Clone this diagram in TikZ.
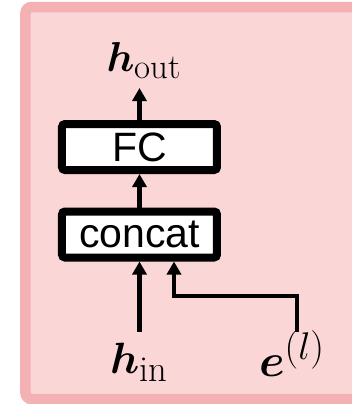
\documentclass[tikz,border=0pt]{standalone}
\usepackage{fontspec}
\usepackage{bm}
\newfontfamily\boxfont{Liberation Sans}
\usetikzlibrary{arrows.meta}
\definecolor{framec}{RGB}{244,177,180}
\definecolor{panelc}{RGB}{250,214,215}
\definecolor{inkc}{RGB}{0,0,0}
\newcommand{\symsize}[2]{\scalebox{#1}{\Huge$#2$}}
\tikzset{
  layer/.style={
    rectangle, rounded corners=1.5pt, draw=inkc, fill=white,
    line width=4pt, minimum width=77.5pt, minimum height=23pt,
    inner sep=0pt, font=\boxfont\fontsize{20.5}{24}\selectfont
  },
  arr/.style={-{Triangle[length=6.5pt, width=7pt]}, line width=2.4pt, draw=inkc},
  sym/.style={inner sep=0pt, anchor=base},
}
\begin{document}
\begin{tikzpicture}[x=0.5pt, y=-0.5pt]
  \clip (0,0) rectangle (352,404);
  \fill[white] (0,0) rectangle (352,404);
  % the pink panel, cut off at the right
  \draw[framec, fill=panelc, line width=5.25pt, rounded corners=3pt]
    (25.5,7) rectangle (390,399);

  \node[layer] (fc) at (139.5,147) {FC};
  \node[layer] (concat) at (139.5,234.5) {concat};

  \node[sym] (hout) at (144,71) {\symsize{0.84}{\bm{h}_{\mathrm{out}}}};
  \node[sym] (hin) at (139,373) {\symsize{0.88}{\bm{h}_{\mathrm{in}}}};
  \node[sym] (emb) at (292,376) {\symsize{0.93}{\bm{e}^{(l)}}};

  \coordinate (outtip) at (139.5,88);
  \coordinate (hinend) at (139.5,332);
  \coordinate (embend) at (297,332);
  \coordinate (join) at (174,296);

  \draw[arr] (fc.north) -- (outtip);
  \draw[arr] (concat.north) -- (fc.south);
  \draw[arr] (hinend) -- (concat.south -| hinend);
  \draw[arr] (embend) |- (join) -- (concat.south -| join);
\end{tikzpicture}
\end{document}
